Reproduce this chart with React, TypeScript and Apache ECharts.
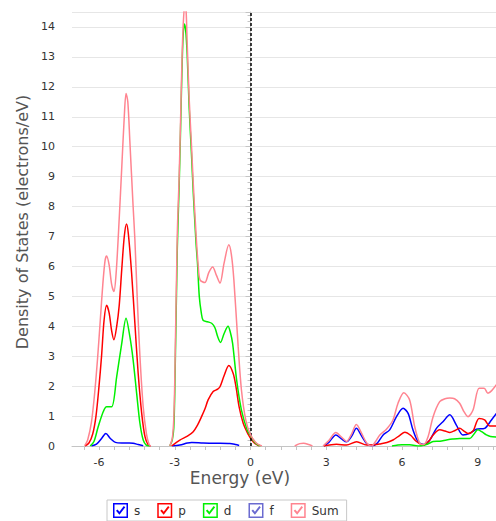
import React, { useEffect, useRef } from "react";
import * as echarts from "echarts";

// Energy (eV) / value (electrons/eV) pairs per series; null = gap in the curve
const sE = [-6.3, -6.1, -5.9, -5.73, -5.55, -5.35, -5.1, -4.8, -4.65, -4.45, -4.25, -4.0, -3.1, -2.8, -2.5, -2.33, -1.88, -1.4, -0.82, -0.6, -0.45, 1.0, 2.9, 3.1, 3.38, 3.6, 3.8, 4.0, 4.19, 4.4, 4.6, 4.8, 5.0, 5.25, 5.51, 5.78, 6.04, 6.24, 6.43, 6.63, 6.86, 7.1, 7.36, 7.62, 7.89, 8.15, 8.41, 8.68, 8.94, 9.27, 9.54, 9.75];
const sV = [0, 0.06, 0.25, 0.42, 0.25, 0.12, 0.1, 0.1, 0.09, 0.05, 0.01, null, 0, 0.03, 0.1, 0.12, 0.1, 0.09, 0.08, 0.05, 0.02, null, 0, 0.12, 0.37, 0.24, 0.14, 0.32, 0.59, 0.33, 0.08, 0.01, 0.08, 0.37, 0.54, 0.98, 1.26, 1.09, 0.54, 0.15, 0.05, 0.2, 0.59, 0.81, 1.04, 0.7, 0.37, 0.42, 0.56, 0.59, 0.87, 1.1];

const pE = [-6.56, -6.4, -6.25, -6.12, -6.0, -5.9, -5.8, -5.7, -5.6, -5.5, -5.41, -5.3, -5.2, -5.1, -5.0, -4.91, -4.84, -4.71, -4.58, -4.45, -4.31, -4.18, -4.05, -3.95, -3.5, -3.13, -2.8, -2.5, -2.27, -2.1, -1.94, -1.8, -1.68, -1.48, -1.3, -1.21, -1.06, -0.86, -0.69, -0.58, -0.45, -0.29, -0.1, 0, 0.15, 0.35, 1.0, 2.9, 3.4, 3.8, 4.2, 4.6, 4.9, 5.12, 5.4, 5.64, 5.9, 6.11, 6.35, 6.57, 6.86, 7.05, 7.23, 7.49, 7.7, 7.89, 8.1, 8.28, 8.45, 8.61, 8.81, 9.05, 9.27, 9.47, 9.75];
const pV = [0, 0.1, 0.4, 1.0, 2.0, 3.0, 4.2, 4.7, 4.45, 3.85, 3.55, 4.0, 4.7, 5.9, 7.0, 7.42, 7.1, 5.78, 4.1, 2.43, 1.09, 0.31, 0.03, 0, null, 0, 0.2, 0.33, 0.48, 0.7, 0.98, 1.25, 1.54, 1.82, 1.9, 1.98, 2.32, 2.69, 2.43, 2.0, 1.3, 0.76, 0.4, 0.26, 0.1, 0, null, 0, 0.06, 0.03, 0.14, 0.03, 0.04, 0.07, 0.12, 0.2, 0.35, 0.46, 0.35, 0.15, 0.03, 0.15, 0.37, 0.54, 0.5, 0.45, 0.52, 0.59, 0.5, 0.42, 0.5, 0.92, 0.87, 0.67, 0.67];

const dE = [-6.35, -6.2, -6.03, -5.83, -5.7, -5.5, -5.3, -5.1, -4.93, -4.78, -4.65, -4.51, -4.38, -4.25, -4.12, -4.0, -3.6, -3.2, -3.1, -3.04, -3.0, -2.9, -2.83, -2.77, -2.72, -2.67, -2.62, -2.57, -2.51, -2.43, -2.33, -2.27, -2.16, -2.1, -2.03, -1.95, -1.88, -1.7, -1.54, -1.41, -1.3, -1.19, -1.05, -0.89, -0.8, -0.71, -0.55, -0.36, -0.13, 0, 0.1, 0.25, 0.4, 3.0, 5.6, 6.0, 6.3, 6.7, 7.0, 7.23, 7.5, 7.76, 8.0, 8.28, 8.68, 8.85, 9.0, 9.15, 9.34, 9.5, 9.75];
const dV = [0, 0.15, 0.65, 1.15, 1.31, 1.31, 2.32, 3.43, 4.27, 3.66, 2.88, 1.76, 0.76, 0.2, 0.02, 0, null, 0, 0.2, 0.6, 1.8, 6.6, 8.6, 10.6, 12.4, 13.7, 14.1, 13.9, 13.1, 11.3, 9.6, 8.5, 6.8, 6.1, 5.0, 4.45, 4.2, 4.15, 4.1, 3.95, 3.65, 3.46, 3.75, 4.0, 3.8, 3.43, 2.2, 1.2, 0.53, 0.35, 0.2, 0.06, 0, null, 0, 0.04, 0.04, 0, 0.06, 0.15, 0.16, 0.2, 0.23, 0.25, 0.25, 0.4, 0.54, 0.48, 0.37, 0.32, 0.3];

const fE: number[] = [];
const fV: (number | null)[] = [];

const sumE = [-6.56, -6.45, -6.3, -6.18, -6.06, -5.95, -5.85, -5.76, -5.7, -5.6, -5.5, -5.41, -5.32, -5.2, -5.1, -5.0, -4.93, -4.86, -4.78, -4.65, -4.58, -4.48, -4.38, -4.25, -4.12, -4.02, -3.95, -3.6, -3.2, -3.1, -3.04, -3.0, -2.9, -2.83, -2.77, -2.72, -2.67, -2.6, -2.55, -2.51, -2.43, -2.33, -2.27, -2.16, -2.07, -2.0, -1.81, -1.65, -1.5, -1.35, -1.21, -1.05, -0.86, -0.76, -0.66, -0.49, -0.36, -0.19, 0, 0.24, 0.45, 1.0, 1.75, 1.95, 2.1, 2.3, 2.45, 2.6, 2.87, 3.1, 3.38, 3.6, 3.8, 4.0, 4.19, 4.4, 4.6, 4.79, 4.95, 5.12, 5.38, 5.64, 5.84, 6.07, 6.3, 6.5, 6.7, 6.86, 7.03, 7.23, 7.49, 7.7, 7.89, 8.08, 8.28, 8.45, 8.61, 8.81, 9.05, 9.25, 9.4, 9.55, 9.75];
const sumV = [0.02, 0.2, 0.8, 1.7, 2.9, 4.2, 5.4, 6.2, 6.35, 6.05, 5.4, 5.16, 5.8, 7.6, 9.3, 11.0, 11.78, 11.5, 10.2, 8.0, 6.9, 4.8, 3.0, 1.3, 0.4, 0.06, 0, null, 0, 0.25, 0.9, 2.2, 7.1, 8.9, 10.9, 12.7, 14.0, 14.8, 14.5, 13.5, 11.6, 9.9, 8.8, 7.1, 6.0, 5.55, 5.46, 5.8, 5.98, 5.7, 5.44, 6.1, 6.72, 6.4, 5.55, 3.32, 1.87, 0.87, 0.37, 0.09, 0, null, 0, 0.08, 0.09, 0.05, 0, null, 0, 0.18, 0.45, 0.3, 0.15, 0.4, 0.72, 0.42, 0.1, 0.0, 0.15, 0.37, 0.56, 0.87, 1.43, 1.78, 1.54, 0.65, 0.09, 0.05, 0.31, 0.98, 1.48, 1.58, 1.6, 1.58, 1.43, 1.15, 0.98, 1.2, 1.93, 1.93, 1.76, 1.85, 2.06];

const seriesNames = ["s", "p", "d", "f", "Sum"];
const seriesColors = ["#0000ff", "#ff0000", "#00f000", "#6b6bd0", "#ff8490"];
const xLabelValues = [-6, -3, 0, 3, 6, 9];
const fermiEnergy = 0;

const pairs = (e: number[], v: (number | null)[]) =>
  e.map((x, i) => [x, v[i] === null ? "-" : v[i]]);

const checkIcon =
  "path://M0 0H100V100H0Z M10 10V90H90V10Z M20 52L30 44L43 58L72 20L82 28L43 78Z";

export default function App() {
  const ref = useRef<HTMLDivElement>(null);
  useEffect(() => {
    if (!ref.current) return;
    const chart = echarts.init(ref.current, null, { renderer: "svg" });
    const tickValues: number[] = [];
    for (let k = -11; k <= 16; k++) tickValues.push(Math.round(k * 0.6 * 10) / 10);
    const data = [pairs(sE, sV), pairs(pE, pV), pairs(dE, dV), pairs(fE, fV), pairs(sumE, sumV)];
    const axisColor = "#c4c4c4";
    chart.setOption({
      animation: false,
      textStyle: { fontFamily: "DejaVu Sans" },
      grid: { left: 72, right: 0, top: 12, bottom: 75 },
      xAxis: {
        type: "value",
        min: -7.07,
        max: 9.72,
        axisLine: { show: true, onZero: false, lineStyle: { color: axisColor } },
        axisTick: { show: true, customValues: tickValues, length: 4, lineStyle: { color: axisColor } },
        axisLabel: { customValues: xLabelValues, margin: 11, fontSize: 11, color: "#333" },
        splitLine: { show: false },
      },
      yAxis: {
        type: "value",
        min: 0,
        max: 14.5,
        interval: 1,
        axisLine: { show: true, lineStyle: { color: axisColor } },
        axisTick: { show: true, length: 5, lineStyle: { color: axisColor } },
        minorTick: { show: true, splitNumber: 5, length: 3, lineStyle: { color: axisColor } },
        axisLabel: { margin: 17, fontSize: 11, color: "#333", showMaxLabel: false },
        splitLine: { show: true, lineStyle: { color: "#e6e6e6" } },
      },
      legend: {
        data: seriesNames,
        left: 107,
        top: 500,
        icon: checkIcon,
        itemWidth: 17,
        itemHeight: 15,
        itemGap: 17,
        borderColor: "#c8c8c8",
        borderWidth: 1,
        padding: [3, 8, 3, 6],
        itemStyle: { borderWidth: 0 },
        textStyle: { fontSize: 12, color: "#333" },
      },
      graphic: [
        {
          type: "text",
          x: 22,
          y: 222,
          rotation: Math.PI / 2,
          style: {
            text: "Density of States (electrons/eV)",
            fill: "#555",
            font: "16px 'DejaVu Sans'",
            align: "center",
            verticalAlign: "middle",
          },
        },
        {
          type: "text",
          x: 240,
          y: 478,
          style: {
            text: "Energy (eV)",
            fill: "#555",
            font: "17px 'DejaVu Sans'",
            align: "center",
            verticalAlign: "middle",
          },
        },
      ],
      series: seriesNames.map((name, i) => ({
        name,
        type: "line",
        data: data[i],
        smooth: 0.3,
        showSymbol: false,
        symbol: "none",
        color: seriesColors[i],
        lineStyle: { color: seriesColors[i], width: 1.5 },
        connectNulls: false,
        z: 2 + i,
        markLine:
          i === 0
            ? {
                silent: true,
                symbol: ["none", "none"],
                label: { show: false },
                lineStyle: { color: "#000", type: [3, 2], width: 1.5 },
                data: [{ xAxis: fermiEnergy }],
              }
            : undefined,
      })),
    });
    return () => chart.dispose();
  }, []);
  return (
    <div
      ref={ref}
      style={{ position: "absolute", left: 0, top: 0, width: 496, height: 521 }}
    />
  );
}
